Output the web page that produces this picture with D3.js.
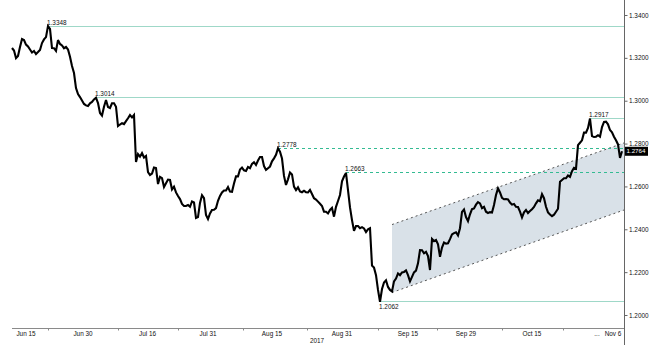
<!DOCTYPE html>
<html><head><meta charset="utf-8">
<script src="https://cdn.jsdelivr.net/npm/d3@7"></script>
<style>body{margin:0;background:#fff;}svg{display:block;font-family:"Liberation Sans",Arial,sans-serif;}</style>
</head><body><svg id="c" width="658" height="351"></svg>
<script>
// GBP/USD price series (evenly spaced samples, Jun 12 – Nov 7 2017)
const rate = [
1.3246,1.3234,1.3199,1.3209,1.3251,1.3288,1.3283,1.3262,1.3253,1.3239,
1.3225,1.3232,1.3218,1.3227,1.3237,1.3269,1.3286,1.3297,1.3348,1.3335,
1.3246,1.3245,1.3232,1.3283,1.3265,1.3258,1.3245,1.3251,1.3239,1.3205,
1.3162,1.3129,1.3059,1.3031,1.3017,1.3001,1.2985,1.2978,1.2975,1.2988,
1.2994,1.3006,1.3014,1.2989,1.2943,1.2931,1.2972,1.3003,1.2971,1.2966,
1.2988,1.2988,1.2972,1.2882,1.2889,1.2895,1.2891,1.2905,1.2918,1.2933,
1.2922,1.2933,1.2714,1.2751,1.2739,1.2756,1.2735,1.2742,1.2667,1.2653,
1.2660,1.2688,1.2686,1.2611,1.2645,1.2639,1.2597,1.2615,1.2632,1.2630,
1.2586,1.2599,1.2572,1.2555,1.2541,1.2518,1.2509,1.2509,1.2513,1.2505,
1.2530,1.2525,1.2453,1.2457,1.2523,1.2559,1.2545,1.2467,1.2448,1.2474,
1.2490,1.2491,1.2499,1.2533,1.2556,1.2572,1.2581,1.2581,1.2597,1.2576,
1.2575,1.2614,1.2647,1.2647,1.2679,1.2688,1.2675,1.2672,1.2691,1.2685,
1.2705,1.2713,1.2700,1.2721,1.2737,1.2737,1.2695,1.2677,1.2685,1.2693,
1.2717,1.2731,1.2748,1.2778,1.2762,1.2730,1.2649,1.2607,1.2633,1.2665,
1.2656,1.2599,1.2583,1.2596,1.2577,1.2573,1.2580,1.2573,1.2572,1.2584,
1.2565,1.2545,1.2539,1.2529,1.2519,1.2509,1.2482,1.2482,1.2474,1.2490,
1.2500,1.2459,1.2505,1.2532,1.2560,1.2624,1.2646,1.2663,1.2583,1.2502,
1.2443,1.2393,1.2415,1.2415,1.2405,1.2410,1.2404,1.2387,1.2400,1.2405,
1.2231,1.2221,1.2186,1.2117,1.2062,1.2121,1.2152,1.2162,1.2131,1.2117,
1.2110,1.2157,1.2170,1.2194,1.2186,1.2199,1.2201,1.2208,1.2186,1.2157,
1.2178,1.2199,1.2207,1.2241,1.2303,1.2302,1.2288,1.2295,1.2275,1.2210,
1.2355,1.2345,1.2350,1.2330,1.2272,1.2315,1.2338,1.2333,1.2335,1.2354,
1.2376,1.2382,1.2386,1.2371,1.2405,1.2481,1.2492,1.2457,1.2438,1.2470,
1.2494,1.2497,1.2515,1.2527,1.2521,1.2499,1.2505,1.2482,1.2476,1.2480,
1.2478,1.2513,1.2560,1.2591,1.2572,1.2547,1.2540,1.2541,1.2539,1.2525,
1.2515,1.2518,1.2505,1.2504,1.2482,1.2455,1.2479,1.2490,1.2476,1.2485,
1.2494,1.2504,1.2521,1.2535,1.2531,1.2564,1.2545,1.2505,1.2479,1.2469,
1.2461,1.2468,1.2482,1.2496,1.2622,1.2630,1.2638,1.2638,1.2651,1.2645,
1.2671,1.2687,1.2683,1.2793,1.2804,1.2815,1.2851,1.2851,1.2873,1.2917,
1.2835,1.2831,1.2832,1.2839,1.2832,1.2877,1.2901,1.2902,1.2890,1.2863,
1.2853,1.2832,1.2815,1.2796,1.2733,1.2764
];
const lastValue = 1.2764;

// X axis labels (positions in sample index units)
const tickLabels   = ["Jun 15","Jun 30","Jul 16","Jul 31","Aug 15","Aug 31","Sep 15","Sep 29","Oct 15","...","Nov 6"];
const tickLabelPos = [7, 35.5, 67.75, 98, 130, 165, 198, 227, 260, 292.5, 300.5];
const tickMarkPos  = [18, 53, 83, 115.5, 147.5, 183, 212.5, 245, 275.5];
const yearLabel = "2017", yearPos = 152.5;

// Y axis ticks
const yTicks = [1.20, 1.22, 1.24, 1.26, 1.28, 1.30, 1.32, 1.34];

// Horizontal support / resistance levels
const levels      = [1.3348, 1.3014, 1.2778, 1.2663, 1.2917, 1.2062];
const levelStart  = [18, 42, 133, 167, 289, 184];
const levelDashed = [false, false, true, true, false, false];
const levelBelow  = [false, false, false, false, false, true];

// Rising channel
const channelPos   = [190, 306];
const channelUpper = [1.2422, 1.2803];
const channelLower = [1.2105, 1.2490];

const svg = d3.select("#c");
const x = d3.scaleLinear().domain([0, rate.length - 1]).range([12, 622]);
const y = d3.scaleLinear().domain([1.20, 1.34]).range([315, 15]);
const axisX = x(306), baseY = 328;

// channel fill
const chPoly = [[channelPos[0], channelUpper[0]], [channelPos[1], channelUpper[1]],
                [channelPos[1], channelLower[1]], [channelPos[0], channelLower[0]]];
svg.append("path")
  .attr("d", d3.line().x(d => x(d[0])).y(d => y(d[1]))(chPoly) + "Z")
  .attr("fill", "#d9e1e8").attr("stroke", "none");
[channelUpper, channelLower].forEach(c => {
  svg.append("line")
    .attr("x1", x(channelPos[0])).attr("y1", y(c[0]))
    .attr("x2", x(channelPos[1])).attr("y2", y(c[1]))
    .attr("stroke", "#555").attr("stroke-width", 1).attr("stroke-dasharray", "2,3");
});

// levels
levels.forEach((v, i) => {
  const yy = Math.floor(y(v)) + 0.5;
  svg.append("path")
    .attr("d", `M${x(levelStart[i])},${yy}H${axisX}`)
    .attr("fill", "none")
    .attr("stroke", levelDashed[i] ? "#33bb92" : "#9fd8c8")
    .attr("stroke-width", levelDashed[i] ? 1.2 : 1)
    .attr("stroke-dasharray", levelDashed[i] ? "3,3" : null);
});

// price line
svg.append("path")
  .datum(rate)
  .attr("d", d3.line().x((d, i) => x(i)).y(d => y(d)))
  .attr("fill", "none").attr("stroke", "#000").attr("stroke-width", 2.1)
  .attr("stroke-linejoin", "miter").attr("stroke-miterlimit", 3);

// level labels
levels.forEach((v, i) => {
  svg.append("text")
    .attr("x", x(levelStart[i]) - 1)
    .attr("y", levelBelow[i] ? y(v) + 7 : y(v) - 1.5)
    .attr("font-size", 6.4).attr("fill", "#111")
    .text(v.toFixed(4));
});

// X axis
svg.append("line").attr("x1", 12).attr("x2", axisX).attr("y1", baseY + 0.5).attr("y2", baseY + 0.5)
  .attr("stroke", "#8a8a8a").attr("stroke-width", 1);
tickMarkPos.forEach(p => {
  svg.append("line").attr("x1", Math.round(x(p)) + 0.5).attr("x2", Math.round(x(p)) + 0.5)
    .attr("y1", baseY).attr("y2", baseY + 2.5).attr("stroke", "#8a8a8a");
});
tickLabels.forEach((t, i) => {
  svg.append("text").attr("x", x(tickLabelPos[i])).attr("y", 336)
    .attr("text-anchor", "middle").attr("font-size", 6.4).attr("fill", "#111").text(t);
});
svg.append("text").attr("x", x(yearPos)).attr("y", 343)
  .attr("text-anchor", "middle").attr("font-size", 6.4).attr("fill", "#111").text(yearLabel);

// Y axis
svg.append("line").attr("x1", axisX + 0.5).attr("x2", axisX + 0.5).attr("y1", 0).attr("y2", 345)
  .attr("stroke", "#666").attr("stroke-width", 1);
const yAxis = d3.axisRight(y).tickValues(yTicks).tickFormat(d3.format(".4f")).tickSize(3).tickPadding(1.5);
const gy = svg.append("g").attr("transform", `translate(${axisX + 0.5},0)`).call(yAxis);
gy.select(".domain").remove();
gy.selectAll("line").attr("stroke", "#666");
gy.selectAll("text").attr("font-size", 6.4).attr("fill", "#111").attr("font-family", "Liberation Sans, Arial, sans-serif");

// last value box
const ly = y(lastValue);
svg.append("rect").attr("x", axisX + 1).attr("y", ly - 4.5).attr("width", 23).attr("height", 9).attr("fill", "#000");
svg.append("text").attr("x", axisX + 2.5).attr("y", ly + 2.2).attr("font-size", 6.2).attr("fill", "#fff").text(lastValue.toFixed(4));
</script></body></html>
